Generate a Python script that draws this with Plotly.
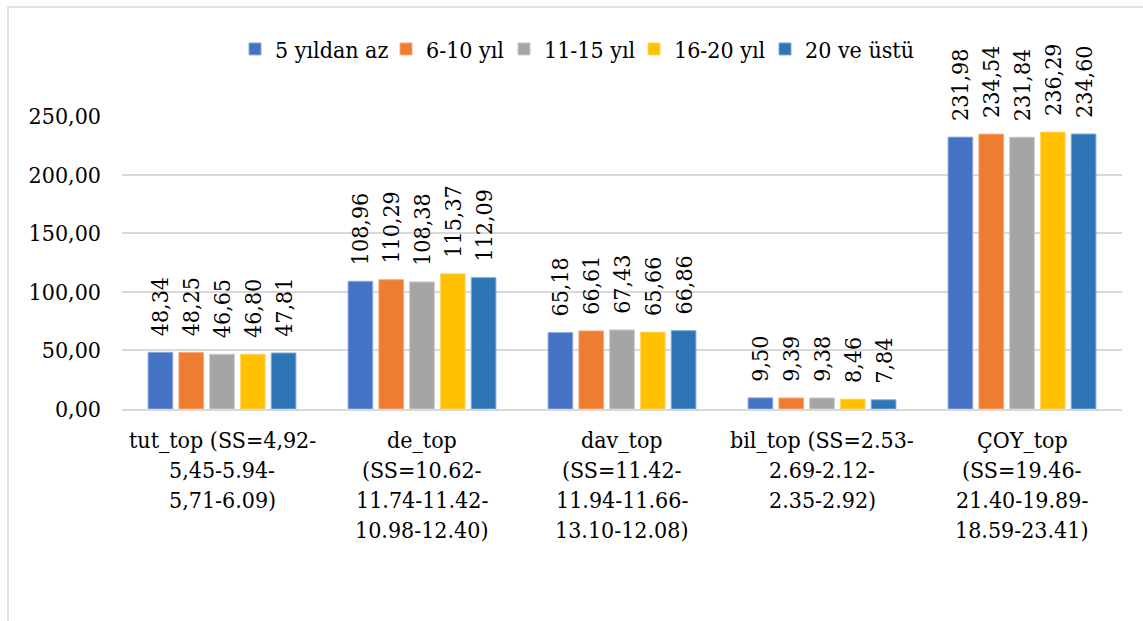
import plotly.graph_objects as go

# Category labels (each entry is the list of lines shown under the group)
categories = ["tut_top", "de_top", "dav_top", "bil_top", "ÇOY_top"]
category_lines = [
    ["tut_top (SS=4,92-", "5,45-5.94-", "5,71-6.09)"],
    ["de_top", "(SS=10.62-", "11.74-11.42-", "10.98-12.40)"],
    ["dav_top", "(SS=11.42-", "11.94-11.66-", "13.10-12.08)"],
    ["bil_top (SS=2.53-", "2.69-2.12-", "2.35-2.92)"],
    ["ÇOY_top", "(SS=19.46-", "21.40-19.89-", "18.59-23.41)"],
]

series_names = ["5 yıldan az", "6-10 yıl", "11-15 yıl", "16-20 yıl", "20 ve üstü"]
values_5_az = [48.34, 108.96, 65.18, 9.50, 231.98]
values_6_10 = [48.25, 110.29, 66.61, 9.39, 234.54]
values_11_15 = [46.65, 108.38, 67.43, 9.38, 231.84]
values_16_20 = [46.80, 115.37, 65.66, 8.46, 236.29]
values_20_ustu = [47.81, 112.09, 66.86, 7.84, 234.60]
series_values = [values_5_az, values_6_10, values_11_15, values_16_20, values_20_ustu]

colors = ["#4472C4", "#ED7D31", "#A5A5A5", "#FFC000", "#2E75B6"]
edge_colors = ["#8FA9DC", "#F3AC7E", "#C8C8C8", "#FFD766", "#7FAAD6"]

# Left edge (paper fraction) of each series' legend entry, laid out in one row
legend_x = [0.113, 0.264, 0.382, 0.512, 0.643]

FONT = "DejaVu Serif Condensed"
SIZE = 23

fig = go.Figure()
for k, (name, vals, col, edge) in enumerate(zip(series_names, series_values, colors, edge_colors)):
    fig.add_trace(go.Bar(
        name=name,
        x=categories,
        y=vals,
        marker=dict(color=col, line=dict(color=edge, width=1)),
        texttemplate="\u00a0\u00a0%{y:.2f}",
        textposition="outside",
        textangle=-90,
        constraintext="none",
        cliponaxis=False,
        textfont=dict(family=FONT, size=SIZE, color="#000000"),
        hoverinfo="skip",
        legend="legend" if k == 0 else f"legend{k + 1}",
    ))

# Multi-line category labels beneath each group
annotations = []
for cat, lines in zip(categories, category_lines):
    for i, line in enumerate(lines):
        annotations.append(dict(
            x=cat, y=0, xref="x", yref="y",
            text=line, showarrow=False,
            xanchor="center", yanchor="top",
            yshift=-16 - 30 * i,
            font=dict(family=FONT, size=SIZE, color="#000000"),
        ))

legends = {}
for k, lx in enumerate(legend_x):
    key = "legend" if k == 0 else f"legend{k + 1}"
    legends[key] = dict(
        orientation="h",
        x=lx, xanchor="left",
        y=1.2287, yanchor="middle",
        font=dict(family=FONT, size=SIZE, color="#000000"),
        bgcolor="rgba(0,0,0,0)",
        itemwidth=30,
        borderwidth=0,
    )

fig.update_layout(
    width=1143,
    height=621,
    margin=dict(l=122, r=21, t=116, b=212),
    paper_bgcolor="white",
    plot_bgcolor="white",
    separators=",.",
    barmode="group",
    bargap=0.23,
    bargroupgap=0.2,
    font=dict(family=FONT, size=SIZE, color="#000000"),
    showlegend=True,
    annotations=annotations,
    shapes=[dict(
        type="rect", xref="paper", yref="paper",
        x0=-0.114, x1=1.05, y0=-1.2, y1=1.372,
        line=dict(color="#D9D9D9", width=1.5),
        layer="below",
    )],
    **legends,
)

fig.update_xaxes(
    range=[-0.5, 4.5],
    showticklabels=False,
    showgrid=False,
    showline=True,
    linecolor="#D9D9D9",
    linewidth=1.5,
    ticks="",
)
fig.update_yaxes(
    range=[0, 250],
    dtick=50,
    tickformat=".2f",
    showgrid=True,
    gridcolor="#D9D9D9",
    gridwidth=1.5,
    zeroline=False,
    showline=False,
    ticks="",
    ticklabelstandoff=20,
    tickfont=dict(family=FONT, size=SIZE, color="#000000"),
)

fig.write_html("out.html")
